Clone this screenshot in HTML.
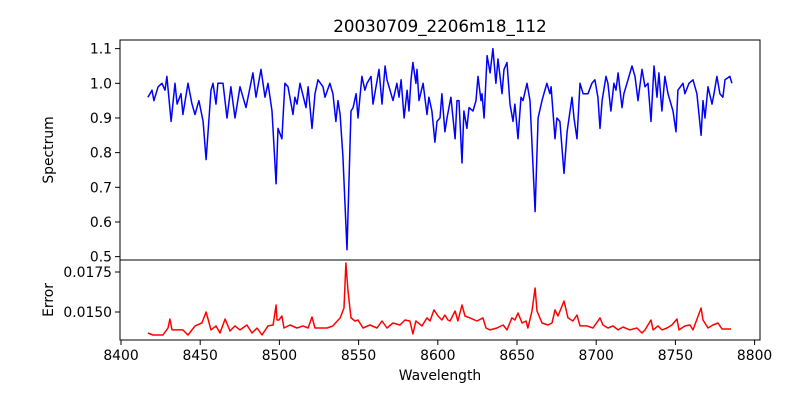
<!DOCTYPE html>
<html><head><meta charset="utf-8"><style>
html,body{margin:0;padding:0;background:#fff;}
svg{display:block;font-family:"DejaVu Sans","Liberation Sans",sans-serif;}
</style></head><body>
<svg id="chart" width="800" height="400">
<rect width="800" height="400" fill="#fff"/>
<text x="440" y="32" font-size="16.7" text-anchor="middle">20030709_2206m18_112</text>
<g id="gtop"></g><g id="gbot"></g>
<text x="440" y="380" font-size="13.9" text-anchor="middle">Wavelength</text>
<text transform="translate(53,150) rotate(-90)" font-size="13.9" text-anchor="middle">Spectrum</text>
<text transform="translate(53,300) rotate(-90)" font-size="13.9" text-anchor="middle">Error</text>
</svg>
<script>
const specW=[8417.0,8419.6,8420.8,8423.4,8425.9,8427.8,8429.0,8431.6,8434.1,8435.4,8437.9,8439.1,8442.3,8444.8,8446.7,8449.2,8451.8,8453.7,8456.8,8458.1,8460.0,8461.2,8464.4,8466.9,8469.4,8472.0,8475.1,8478.9,8483.3,8485.2,8488.4,8490.9,8492.8,8495.3,8497.9,8499.1,8501.6,8503.5,8505.4,8508.6,8509.8,8511.1,8513.0,8516.8,8518.1,8520.6,8522.5,8524.4,8527.5,8528.8,8531.9,8533.8,8535.7,8537.0,8538.3,8540.1,8542.7,8545.2,8546.5,8548.4,8549.6,8552.1,8554.0,8555.3,8557.8,8559.1,8562.9,8564.8,8566.7,8567.9,8571.7,8574.2,8575.5,8576.8,8578.7,8580.6,8581.8,8583.1,8584.3,8586.2,8586.9,8588.1,8590.7,8593.2,8594.4,8596.3,8598.2,8599.5,8601.4,8602.6,8604.5,8605.8,8608.3,8610.9,8612.1,8613.4,8615.3,8616.5,8618.4,8619.7,8622.2,8624.1,8625.4,8627.3,8627.9,8629.2,8631.1,8633.0,8634.8,8636.7,8638.0,8640.5,8641.8,8643.7,8645.6,8647.5,8648.7,8650.6,8652.5,8653.8,8656.3,8658.2,8661.4,8663.3,8665.8,8667.0,8668.9,8670.8,8671.5,8674.0,8675.2,8677.1,8679.7,8681.6,8684.7,8686.0,8687.9,8689.8,8691.7,8694.8,8697.3,8699.2,8701.1,8702.4,8703.7,8706.2,8707.4,8709.3,8711.2,8712.5,8713.8,8716.3,8717.5,8720.1,8722.6,8724.5,8726.4,8728.9,8730.8,8732.7,8734.6,8736.5,8738.4,8739.6,8741.5,8743.4,8745.3,8748.5,8750.4,8751.6,8754.8,8756.0,8758.6,8761.1,8763.6,8766.2,8767.4,8768.7,8770.6,8773.1,8774.4,8776.2,8778.1,8780.0,8781.3,8784.4,8785.7];
const specV=[0.96,0.98,0.95,0.99,1.0,0.98,1.02,0.89,1.0,0.94,0.97,0.91,1.0,0.94,0.91,0.95,0.89,0.78,0.98,1.0,0.94,1.0,1.0,0.9,0.99,0.9,0.99,0.93,1.03,0.96,1.04,0.96,1.0,0.92,0.71,0.87,0.84,1.0,0.99,0.91,0.96,0.94,1.0,0.93,0.99,0.87,0.97,1.01,0.99,0.96,1.0,0.97,0.89,0.95,0.91,0.79,0.52,0.92,0.93,0.97,0.9,1.02,0.98,1.0,1.02,0.94,1.04,0.94,1.05,1.01,0.95,1.0,0.96,1.01,0.9,0.98,0.92,1.01,1.06,1.0,1.04,0.95,1.0,0.91,0.96,0.92,0.83,0.89,0.9,0.97,0.86,0.9,0.96,0.84,0.95,0.95,0.77,0.92,0.87,0.93,0.92,0.95,1.02,0.95,0.97,0.9,1.08,1.03,1.1,1.0,1.07,0.97,1.04,1.06,0.94,0.89,0.94,0.84,0.96,0.95,1.0,0.95,0.63,0.9,0.95,0.97,1.0,0.97,0.99,0.84,0.9,0.89,0.74,0.86,0.96,0.9,0.84,1.0,0.97,0.97,1.0,1.01,0.96,0.87,0.95,1.02,1.0,0.92,1.0,0.98,1.03,0.93,0.97,1.01,1.05,1.02,0.95,1.04,0.99,1.0,0.89,1.05,0.96,1.03,0.92,1.02,0.97,0.92,0.86,0.98,1.0,0.97,1.0,1.01,0.97,0.85,0.95,0.9,0.99,0.94,0.97,1.02,0.97,0.96,1.01,1.02,1.0];
const errW=[8417.0,8420.2,8426.5,8429.7,8430.9,8432.2,8435.4,8439.1,8442.3,8446.7,8451.1,8453.7,8456.8,8460.0,8462.5,8465.7,8468.8,8472.0,8475.1,8479.5,8482.7,8485.9,8489.0,8492.8,8496.0,8497.9,8498.5,8499.7,8501.6,8502.9,8506.7,8511.1,8514.9,8518.1,8520.6,8522.5,8525.6,8530.1,8533.8,8538.3,8540.8,8542.0,8543.3,8545.2,8547.7,8549.6,8552.8,8557.2,8561.6,8564.8,8567.9,8571.7,8576.1,8579.3,8582.4,8584.3,8586.2,8590.0,8593.2,8595.1,8597.6,8600.1,8602.6,8604.5,8606.4,8607.7,8610.9,8612.7,8615.3,8617.2,8620.3,8624.7,8628.5,8630.4,8632.9,8637.4,8641.2,8643.7,8646.8,8648.7,8650.6,8653.2,8655.7,8656.9,8659.5,8661.4,8662.6,8665.8,8669.6,8672.1,8674.0,8675.9,8679.7,8682.2,8685.3,8687.9,8689.8,8694.2,8698.0,8702.4,8704.3,8707.4,8710.6,8713.8,8716.9,8721.3,8725.7,8728.9,8730.8,8734.6,8735.9,8739.0,8741.5,8744.7,8747.8,8751.0,8752.3,8756.1,8759.2,8761.1,8766.2,8767.4,8770.6,8773.7,8776.9,8779.4,8782.6,8785.1];
const errV=[0.01369,0.01356,0.01356,0.0140,0.01456,0.01388,0.01388,0.01388,0.01356,0.01413,0.01431,0.0150,0.01388,0.01413,0.01369,0.01456,0.01381,0.01413,0.01388,0.01419,0.01369,0.0140,0.01356,0.01413,0.01419,0.01544,0.0145,0.0145,0.01475,0.0140,0.01419,0.0140,0.01413,0.0140,0.01469,0.0140,0.0140,0.0140,0.01413,0.01463,0.01525,0.01806,0.01631,0.01463,0.01444,0.0145,0.0140,0.01419,0.0140,0.01444,0.0140,0.01431,0.01419,0.0145,0.01444,0.01363,0.01444,0.01413,0.01463,0.01444,0.01513,0.01475,0.0145,0.01481,0.0145,0.01444,0.01506,0.01444,0.01544,0.01475,0.01463,0.01444,0.01463,0.0140,0.01388,0.0140,0.01419,0.01388,0.01463,0.0145,0.01494,0.01431,0.01444,0.0140,0.01506,0.0165,0.01506,0.01431,0.01419,0.01431,0.01513,0.01475,0.01569,0.01463,0.01444,0.01481,0.01413,0.01413,0.0140,0.01463,0.01419,0.0140,0.01413,0.01388,0.01406,0.01388,0.0140,0.01369,0.01388,0.0145,0.01388,0.01413,0.01388,0.0140,0.01419,0.01456,0.01388,0.01413,0.01419,0.01388,0.01525,0.0145,0.0140,0.01419,0.01431,0.01394,0.01394,0.01394];
const xTicks=[8400,8450,8500,8550,8600,8650,8700,8750,8800];
const specTicks=[0.5,0.6,0.7,0.8,0.9,1.0,1.1];
const specTickLabels=["0.5","0.6","0.7","0.8","0.9","1.0","1.1"];
const errTicks=[0.015,0.0175];
const errTickLabels=["0.0150","0.0175"];

const NS="http://www.w3.org/2000/svg";
const L=120,R=760,T1=40,B1=260,T2=260,B2=340;
const xs=w=>121+(w-8400)*1.584;
const ys1=v=>83.3-(v-1.0)*346.7;
const ys2=v=>312-(v-0.015)*16000;
function mk(tag,attrs,parent){const e=document.createElementNS(NS,tag);for(const k in attrs)e.setAttribute(k,attrs[k]);parent.appendChild(e);return e;}
const gTop=document.getElementById('gtop'),gBot=document.getElementById('gbot');
function pts(W,V,fy){const n=Math.min(W.length,V.length);const a=[];for(let i=0;i<n;i++)a.push(xs(W[i]).toFixed(1)+','+fy(V[i]).toFixed(1));return a.join(' ');}

let p=mk('polyline',{points:pts(specW,specV,ys1),fill:'none',stroke:'#0000ff','stroke-width':1.5,'stroke-linejoin':'round'},gTop);


p=mk('polyline',{points:pts(errW,errV,ys2),fill:'none',stroke:'#ff0000','stroke-width':1.5,'stroke-linejoin':'round'},gBot);



let f=mk('rect',{x:L,y:T1,width:R-L,height:B1-T1,fill:'none',stroke:'#000','stroke-width':1},gTop);


f=mk('rect',{x:L,y:T2,width:R-L,height:B2-T2,fill:'none',stroke:'#000','stroke-width':1},gBot);



specTicks.forEach((v,i)=>{const y=ys1(v);
 mk('line',{x1:L-5,x2:L,y1:y,y2:y,stroke:'#000'},gTop);
 const t=mk('text',{x:L-8,y:y+5,'font-size':13.9,'text-anchor':'end'},gTop);t.textContent=specTickLabels[i];
 
 });
errTicks.forEach((v,i)=>{const y=ys2(v);
 mk('line',{x1:L-5,x2:L,y1:y,y2:y,stroke:'#000'},gBot);
 const t=mk('text',{x:L-8,y:y+5,'font-size':13.9,'text-anchor':'end'},gBot);t.textContent=errTickLabels[i];
 
 });
xTicks.forEach(w=>{const x=xs(w);
 mk('line',{x1:x,x2:x,y1:B2,y2:B2+5,stroke:'#000'},gBot);
 const t=mk('text',{x:x,y:B2+20,'font-size':13.9,'text-anchor':'middle'},gBot);t.textContent=String(w);
 
 });
</script>
</body></html>
